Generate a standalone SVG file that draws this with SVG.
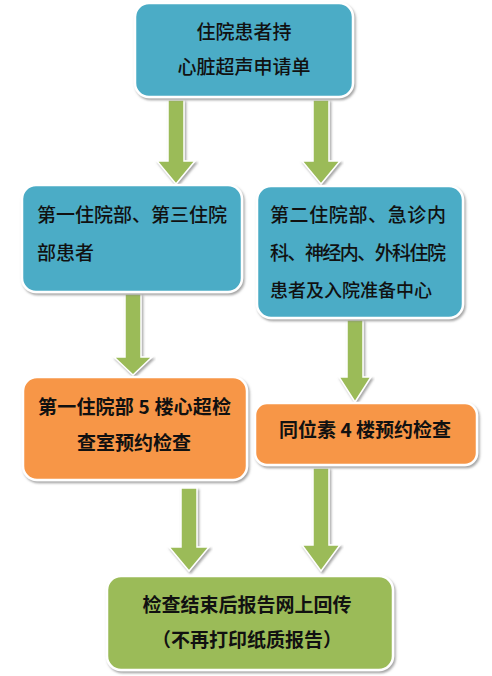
<svg xmlns="http://www.w3.org/2000/svg" width="492" height="676" viewBox="0 0 492 676">
<defs>
<filter id="sh" x="-10%" y="-10%" width="120%" height="130%">
<feDropShadow dx="1.5" dy="2" stdDeviation="1" flood-color="#808080" flood-opacity="0.7"/>
</filter>
<style>
.box{stroke:#ffffff;stroke-width:2.5;filter:url(#sh)}
.teal{fill:#4BACC6}
.orange{fill:#F79646}
.green{fill:#9BBB59}
.arr{fill:#9BBB59;stroke:#ffffff;stroke-width:1.5;filter:url(#sh)}
text{font-family:"Noto Sans CJK SC","Noto Sans",sans-serif;font-size:19px;fill:#111111;font-weight:500}
.b{font-weight:bold}
.m{text-anchor:middle}
</style>
</defs>
<rect width="492" height="676" fill="#ffffff"/>
<g id="connectors">
<path class="arr" d="M168,100 H184 V161 H195 L176,184 L157,161 H168 Z"/>
<path class="arr" d="M313,100 H329 V161 H340 L321,184 L302,161 H313 Z"/>
<path class="arr" d="M125,294 H141 V357 H152 L133,375 L114,357 H125 Z"/>
<path class="arr" d="M347,320 H363 V377 H371 L355,402 L339,377 H347 Z"/>
<path class="arr" d="M181,488 H197 V547 H209 L189,571 L169,547 H181 Z"/>
<path class="arr" d="M313,468 H329 V545 H340 L321,571 L302,545 H313 Z"/>
</g>
<g id="n_top">
<rect class="box teal" x="135" y="3" width="218" height="94" rx="14"/>
<text class="m" x="244" y="39">住院患者持</text>
<text class="m" x="244" y="74">心脏超声申请单</text>
</g>
<g id="n_left1">
<rect class="box teal" x="22" y="185" width="220" height="107" rx="14"/>
<text x="37" y="222" textLength="190" lengthAdjust="spacing">第一住院部、第三住院</text>
<text x="37" y="260">部患者</text>
</g>
<g id="n_right1">
<rect class="box teal" x="257" y="186" width="206" height="132" rx="14"/>
<text x="270" y="222" textLength="176" lengthAdjust="spacing">第二住院部、急诊内</text>
<text x="270" y="260" textLength="176" lengthAdjust="spacing">科、神经内、外科住院</text>
<text x="270" y="297" style="font-size:18px">患者及入院准备中心</text>
</g>
<g id="n_left2">
<rect class="box orange" x="23" y="377" width="224" height="103" rx="14"/>
<text class="b" x="38" y="414" textLength="193" lengthAdjust="spacing">第一住院部 5 楼心超检</text>
<text class="b m" x="134" y="450">查室预约检查</text>
</g>
<g id="n_right2">
<rect class="box orange" x="255" y="403" width="222" height="62" rx="12"/>
<text class="b m" x="365" y="437">同位素 4 楼预约检查</text>
</g>
<g id="n_bottom">
<rect class="box green" x="107" y="576" width="286" height="94" rx="14"/>
<text class="b m" x="247" y="612">检查结束后报告网上回传</text>
<text class="b m" x="247" y="647">（不再打印纸质报告）</text>
</g>
</svg>
